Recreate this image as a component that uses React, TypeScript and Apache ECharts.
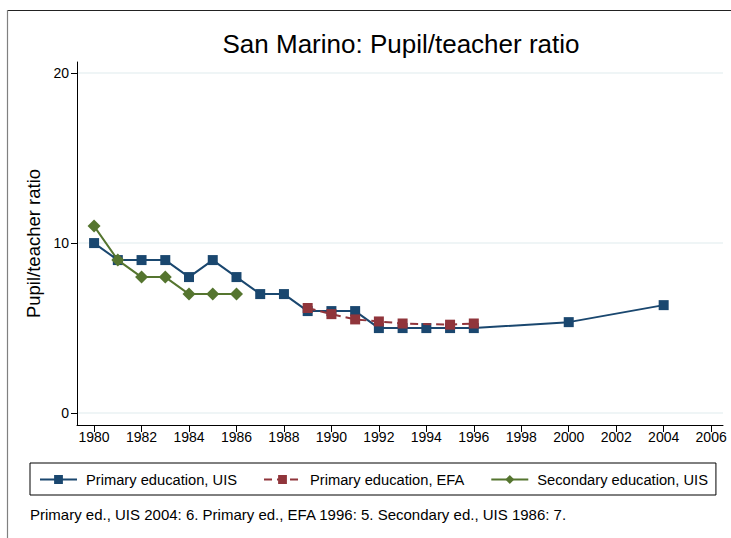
import React, { useEffect, useRef } from "react";
import * as echarts from "echarts";

const titleText = "San Marino: Pupil/teacher ratio";
const yAxisTitle = "Pupil/teacher ratio";
const footnote = "Primary ed., UIS 2004: 6. Primary ed., EFA 1996: 5. Secondary ed., UIS 1986: 7.";

const seriesNames = ["Primary education, UIS", "Primary education, EFA", "Secondary education, UIS"];

const primaryUisYears = [1980, 1981, 1982, 1983, 1984, 1985, 1986, 1987, 1988, 1989, 1990, 1991, 1992, 1993, 1994, 1995, 1996, 2000, 2004];
const primaryUisValues = [10, 9, 9, 9, 8, 9, 8, 7, 7, 6, 6, 6, 5, 5, 5, 5, 5, 5.35, 6.35];

const primaryEfaYears = [1989, 1990, 1991, 1992, 1993, 1995, 1996];
const primaryEfaValues = [6.18, 5.82, 5.51, 5.39, 5.27, 5.2, 5.27];

const secondaryUisYears = [1980, 1981, 1982, 1983, 1984, 1985, 1986];
const secondaryUisValues = [11, 9, 8, 8, 7, 7, 7];

const xTicks = [1980, 1982, 1984, 1986, 1988, 1990, 1992, 1994, 1996, 1998, 2000, 2002, 2004, 2006];
const yTicks = [0, 10, 20];

const colors = ["#1a476f", "#90353b", "#55752f"];
const FONT = "Liberation Sans, Arial, sans-serif";

const pairs = (xs: number[], ys: number[]) => xs.map((x, i) => [x, ys[i]]);

export default function App() {
  const ref = useRef<HTMLDivElement>(null);
  useEffect(() => {
    if (!ref.current) return;
    const chart = echarts.init(ref.current, undefined, { renderer: "svg" });
    chart.setOption({
      animation: false,
      backgroundColor: "#ffffff",
      textStyle: { fontFamily: FONT },
      title: {
        text: titleText,
        left: 401,
        textAlign: "center",
        top: 31,
        padding: 0,
        textStyle: { fontFamily: FONT, fontSize: 26, fontWeight: "normal", color: "#000" },
      },
      grid: { left: 77, right: 8, top: 62, bottom: 113 },
      xAxis: {
        type: "value",
        min: 1979.28,
        max: 2006.5,
        splitLine: { show: false },
        axisLine: { show: true, onZero: false, lineStyle: { color: "#000", width: 1 } },
        axisTick: { show: true, length: 7, customValues: xTicks, lineStyle: { color: "#000" } },
        axisLabel: {
          customValues: xTicks,
          formatter: (v: number) => String(v),
          fontSize: 14,
          color: "#000",
          margin: 5,
          fontFamily: FONT,
        },
      },
      yAxis: {
        type: "value",
        min: -0.7,
        max: 20.65,
        name: yAxisTitle,
        nameLocation: "middle",
        nameGap: 30,
        nameTextStyle: { fontSize: 18.5, color: "#000", fontFamily: FONT },
        splitLine: { show: true, lineStyle: { color: "#eaf2f3", width: 1.5 } },
        axisLine: { show: true, lineStyle: { color: "#000", width: 1 } },
        axisTick: { show: true, length: 6, customValues: yTicks, lineStyle: { color: "#000" } },
        axisLabel: { customValues: yTicks, fontSize: 14, color: "#000", margin: 8, fontFamily: FONT },
      },
      legend: {
        left: 30,
        top: 463,
        data: seriesNames,
        borderColor: "#000",
        borderWidth: 1,
        borderRadius: 0,
        padding: [9, 8, 8, 9],
        itemGap: 26,
        itemWidth: 37,
        itemHeight: 11,
        textStyle: { fontSize: 14.7, color: "#000", fontFamily: FONT, padding: [0, 0, 0, 4] },
      },
      graphic: [
        {
          type: "line",
          shape: { x1: 7, y1: 10.5, x2: 731, y2: 10.5 },
          style: { stroke: "#222222", lineWidth: 1.2 },
        },
        {
          type: "line",
          shape: { x1: 7.5, y1: 10, x2: 7.5, y2: 538 },
          style: { stroke: "#808080", lineWidth: 1.2 },
        },
        {
          type: "text",
          left: 30,
          top: 507,
          style: { text: footnote, fontSize: 15, fill: "#000", fontFamily: FONT },
        },
      ],
      series: [
        {
          name: seriesNames[0],
          type: "line",
          data: pairs(primaryUisYears, primaryUisValues),
          symbol: "rect",
          symbolSize: 10,
          color: colors[0],
          lineStyle: { color: colors[0], width: 2 },
          itemStyle: { color: colors[0] },
          z: 3,
        },
        {
          name: seriesNames[1],
          type: "line",
          data: pairs(primaryEfaYears, primaryEfaValues),
          symbol: "rect",
          symbolSize: 10,
          color: colors[1],
          lineStyle: { color: colors[1], width: 2, type: [8, 5] },
          itemStyle: { color: colors[1] },
          z: 4,
        },
        {
          name: seriesNames[2],
          type: "line",
          data: pairs(secondaryUisYears, secondaryUisValues),
          symbol: "diamond",
          symbolSize: 13,
          color: colors[2],
          lineStyle: { color: colors[2], width: 2 },
          itemStyle: { color: colors[2] },
          z: 5,
        },
      ],
    });
    return () => chart.dispose();
  }, []);
  return <div ref={ref} style={{ width: 731, height: 538, position: "absolute", left: 0, top: 0 }} />;
}
